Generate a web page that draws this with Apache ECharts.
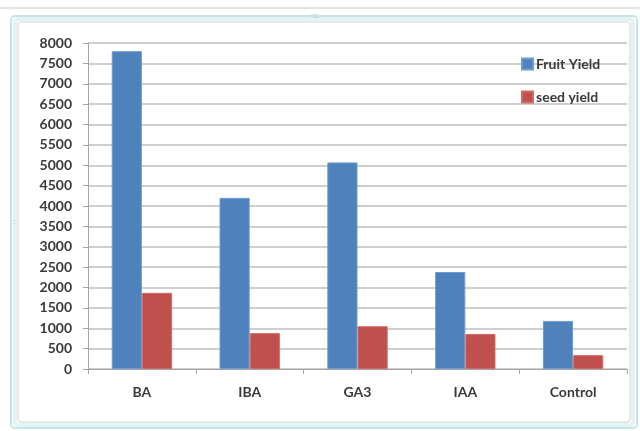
<!DOCTYPE html>
<html>
<head>
<meta charset="utf-8">
<script src="https://cdn.jsdelivr.net/npm/echarts@6/dist/echarts.min.js"></script>
<style>
  html, body { margin: 0; padding: 0; background: #fff; }
  #chart { width: 640px; height: 431px; }
</style>
</head>
<body>
<div id="chart"></div>
<script>
const categories = ["BA", "IBA", "GA3", "IAA", "Control"];
const fruitYield = [7800, 4200, 5070, 2380, 1180];
const seedYield = [1870, 880, 1050, 860, 340];
const seriesNames = ["Fruit Yield", "seed yield"];

const chart = echarts.init(document.getElementById("chart"));
const font = "Lato, 'Open Sans', sans-serif";
const labelColor = "#3a3a3a";

chart.setOption({
  animation: false,
  backgroundColor: "#fff",
  textStyle: { fontFamily: font },
  graphic: [
    { type: "line", shape: { x1: 0, y1: 8, x2: 640, y2: 8 }, style: { stroke: "#c8c8c8", lineWidth: 1 } },
    { type: "rect", shape: { x: 11, y: 16, width: 626, height: 412, r: 4 }, style: { fill: "none", stroke: "#c6e4e8", lineWidth: 2 } },
    { type: "rect", shape: { x: 15, y: 19, width: 618, height: 406, r: 3 }, style: { fill: "none", stroke: "#e2f3f4", lineWidth: 4 } },
    { type: "rect", shape: { x: 18, y: 22, width: 612, height: 400, r: 3 }, style: { fill: "none", stroke: "#d2d2d2", lineWidth: 1 } },
    { type: "text", left: 311, top: 13, style: { text: "::::", fill: "#8aa", fontSize: 7 } },
    { type: "text", left: 13, top: 218, style: { text: ":", fill: "#8aa", fontSize: 8 } },
  ],
  legend: {
    orient: "vertical",
    left: 516,
    top: 52,
    itemWidth: 11,
    itemHeight: 11,
    itemGap: 19,
    icon: "rect",
    textStyle: { fontFamily: font, fontSize: 14, color: labelColor, fontWeight: "bold", padding: [0, 0, 0, -2] },
    data: seriesNames,
  },
  grid: { left: 88, right: 13, top: 43, bottom: 62, containLabel: false },
  xAxis: {
    type: "category",
    data: categories,
    axisLine: { lineStyle: { color: "#a6a6a6", width: 1 } },
    axisTick: { show: true, length: 5, lineStyle: { color: "#a6a6a6" } },
    axisLabel: { fontSize: 14, color: labelColor, margin: 16, fontWeight: "bold", fontFamily: font },
  },
  yAxis: {
    type: "value",
    min: 0,
    max: 8000,
    interval: 500,
    axisLine: { show: true, lineStyle: { color: "#a6a6a6", width: 1 } },
    axisTick: { show: true, length: 5, lineStyle: { color: "#a6a6a6" } },
    axisLabel: { fontSize: 14, color: labelColor, margin: 16, fontWeight: "bold", fontFamily: font, formatter: (v) => String(v) },
    splitLine: { lineStyle: { color: "#bfbfbf", width: 1.5 } },
  },
  series: [
    {
      name: seriesNames[0],
      type: "bar",
      data: fruitYield,
      barGap: "0%",
      barCategoryGap: "44%",
      itemStyle: { color: "#4f81bd", borderColor: "#6f9bd0", borderWidth: 1 },
    },
    {
      name: seriesNames[1],
      type: "bar",
      data: seedYield,
      itemStyle: { color: "#c0504d", borderColor: "#d06a67", borderWidth: 1 },
    },
  ],
});
</script>
</body>
</html>
